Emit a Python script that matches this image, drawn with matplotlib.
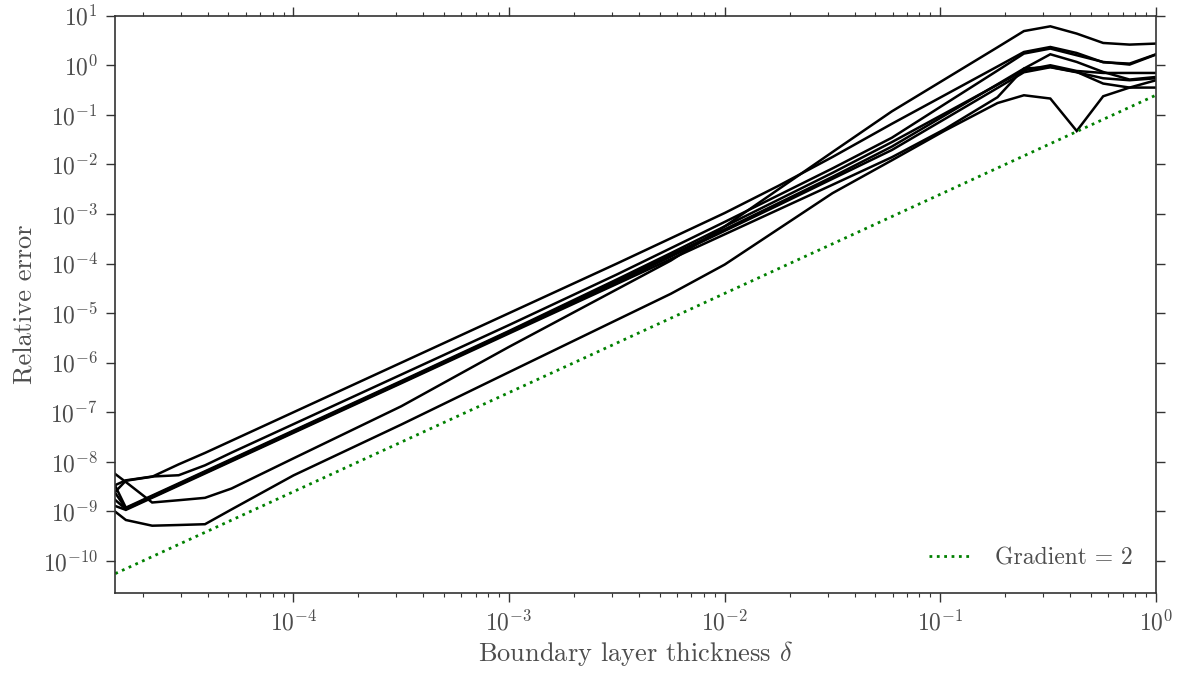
import numpy as np
import matplotlib
matplotlib.use("Agg")
import matplotlib.pyplot as plt
from matplotlib import ticker

# Boundary layer thickness (x values)
delta = [1.493e-5, 1.671e-5, 2.213e-5, 2.938e-5, 3.890e-5, 5.164e-5, 1.0e-4,
         3.162e-4, 1.0e-3, 3.162e-3, 5.623e-3, 1.0e-2, 1.778e-2, 3.162e-2,
         5.957e-2, 0.1047, 0.1841, 0.2441, 0.3236, 0.4289, 0.5689, 0.7543, 1.0]

# Relative error of each run, stored as log10 values
log_err_1 = [-8.246, -8.407, -8.82, -8.774, -8.726, -8.538, -7.93, -6.879, -5.68, -4.52,
             -3.94, -3.25, -2.50, -1.75, -0.93, -0.284, 0.363, 0.69, 0.786, 0.639,
             0.45, 0.417, 0.4375]
log_err_2 = [-8.603, -8.381, -8.30, -8.05, -7.82, -7.574, -7.0, -6.0, -5.0, -4.0,
             -3.49, -2.98, -2.43, -1.85, -1.181, -0.603, -0.024, 0.268, 0.369, 0.248,
             0.06, 0.034, 0.222]
log_err_3 = [-8.468, -8.373, -8.296, -8.27, -8.07, -7.814, -7.24, -6.24, -5.24, -4.22,
             -3.69, -3.16, -2.62, -2.08, -1.462, -0.784, -0.107, 0.236, 0.337, 0.202,
             0.067, 0.014, 0.216]
log_err_4 = [-8.488, -8.924, -8.68, -8.434, -8.19, -7.944, -7.37, -6.37, -5.36, -4.32,
             -3.79, -3.25, -2.71, -2.17, -1.55, -0.972, -0.393, -0.101, 0.0, -0.115,
             -0.155, -0.155, -0.155]
log_err_5 = [-8.629, -8.939, -8.695, -8.449, -8.205, -7.959, -7.385, -6.385, -5.375, -4.35,
             -3.83, -3.31, -2.78, -2.25, -1.64, -1.012, -0.383, -0.067, -0.034, -0.135,
             -0.369, -0.45, -0.45]
log_err_6 = [-8.77, -8.954, -8.71, -8.464, -8.22, -7.974, -7.40, -6.40, -5.39, -4.38,
             -3.86, -3.34, -2.82, -2.29, -1.71, -1.085, -0.458, -0.141, -0.04, -0.141,
             -0.262, -0.302, -0.262]
log_err_7 = [-8.891, -8.969, -8.725, -8.479, -8.235, -7.989, -7.415, -6.415, -5.41, -4.41,
             -3.91, -3.41, -2.91, -2.41, -1.855, -1.29, -0.645, -0.067, 0.222, 0.067,
             -0.135, -0.288, -0.236]
log_err_8 = [-9.006, -9.173, -9.288, -9.274, -9.258, -8.96, -8.274, -7.248, -6.19, -5.136,
             -4.61, -4.02, -3.30, -2.58, -1.917, -1.32, -0.762, -0.605, -0.671, -1.325,
             -0.625, -0.45, -0.302]

# Reference line with gradient 2
ref_delta = [1.493e-5, 1.0]
ref_err = [5.57e-11, 0.25]
ref_label = "Gradient = 2"

x_label = r"Boundary layer thickness $\delta$"
y_label = "Relative error"

plt.rcParams.update({
    "font.family": "serif",
    "font.serif": ["cmr10"],
    "mathtext.fontset": "cm",
    "axes.unicode_minus": False,
    "axes.formatter.use_mathtext": True,
})

text_color = "#4d4d4d"
edge_color = "#333333"

fig = plt.figure(figsize=(11.81, 6.75), dpi=100)
ax = fig.add_axes([0.09763, 0.12104, 0.88120, 0.85570])

for s in [log_err_1, log_err_2, log_err_3, log_err_4,
          log_err_5, log_err_6, log_err_7, log_err_8]:
    ax.plot(delta, np.power(10.0, np.array(s)), color="black", lw=1.8,
            solid_joinstyle="miter")

ax.plot(ref_delta, ref_err, linestyle=":", color="#008000", lw=2.0, label=ref_label)

ax.set_xscale("log")
ax.set_yscale("log")
ax.set_xlim(delta[0], 1.0)
ax.set_ylim(2.23e-11, 10.0)

ax.yaxis.set_major_locator(ticker.LogLocator(base=10, numticks=30))
ax.yaxis.set_minor_locator(ticker.NullLocator())
ax.xaxis.set_major_locator(ticker.LogLocator(base=10, numticks=30))
ax.xaxis.set_minor_locator(ticker.LogLocator(base=10, subs=np.arange(2, 10), numticks=30))

fmt = ticker.FuncFormatter(lambda v, p: r"$10^{%d}$" % int(round(np.log10(v))))
ax.xaxis.set_major_formatter(fmt)
ax.yaxis.set_major_formatter(fmt)
ax.xaxis.set_minor_formatter(ticker.NullFormatter())

for sp in ax.spines.values():
    sp.set_color(edge_color)
    sp.set_linewidth(1.2)

ax.tick_params(which="both", direction="out", top=True, right=True,
               color=edge_color, labelcolor=text_color)
ax.tick_params(which="major", length=6.5, width=1.0, pad=6, labelsize=17)
ax.tick_params(which="minor", length=3.0, width=0.8)

ax.set_xlabel(x_label, fontsize=19, color=text_color, labelpad=2)
ax.set_ylabel(y_label, fontsize=19, color=text_color, labelpad=4)

leg = ax.legend(loc="lower right", frameon=False, fontsize=17,
                handlelength=1.8, handletextpad=1.0, borderaxespad=0.6)
for t in leg.get_texts():
    t.set_color(text_color)

fig.savefig("out.png", dpi=100)
